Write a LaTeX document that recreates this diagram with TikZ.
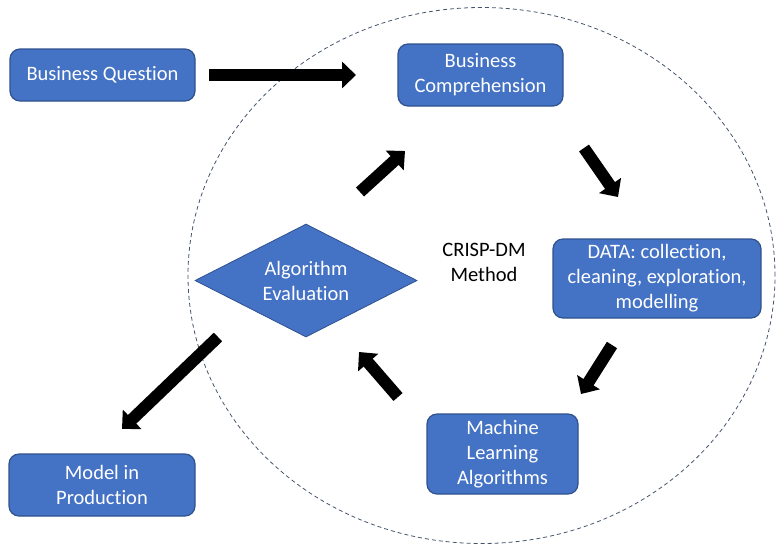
\documentclass[tikz,border=0pt]{standalone}
\usepackage{fontspec}
\setmainfont[Ligatures=NoCommon]{Carlito}
\usetikzlibrary{arrows.meta,shapes.geometric}
\definecolor{BoxBlue}{RGB}{68,114,196}
\definecolor{BoxEdge}{RGB}{47,82,143}
\definecolor{RingGray}{RGB}{68,84,106}
\tikzset{
  stage/.style={draw=BoxEdge,fill=BoxBlue,line width=1.2pt,rounded corners=10pt,text=white,align=center,inner sep=0pt,font=\fontsize{20.5}{25}\selectfont},
  decision/.style={diamond,aspect=2,draw=BoxEdge,fill=BoxBlue,line width=0.8pt,text=white,align=center,inner sep=0pt,minimum width=222pt,minimum height=113pt,font=\fontsize{20.5}{25}\selectfont},
  note/.style={align=center,font=\fontsize{20.5}{25}\selectfont},
  flow/.style={-{Triangle[length=14pt,width=26pt]},line width=12pt,draw=black},
  loopring/.style={draw=RingGray,line width=0.8pt,dash pattern=on 4pt off 3pt}
}
\begin{document}
\begin{tikzpicture}[x=1pt,y=-1pt]
\useasboundingbox (0,0) rectangle (781,550);
\draw[loopring] (481.5,275.5) ellipse [x radius=293.5pt,y radius=268pt];

\node[stage,minimum width=185pt,minimum height=52pt] (bq) at (102.5,75) {Business Question};
\node[stage,minimum width=165pt,minimum height=62pt] (bc) at (480.5,75) {Business\\Comprehension};
\node[stage,minimum width=208pt,minimum height=79pt] (data) at (657,278.5) {DATA: collection,\\cleaning, exploration,\\modelling};
\node[stage,minimum width=151pt,minimum height=80pt] (ml) at (502.5,454) {Machine\\Learning\\Algorithms};
\node[decision] (eval) at (306,280.5) {Algorithm\\Evaluation};
\node[stage,minimum width=186pt,minimum height=62pt] (model) at (102,485) {Model in\\Production};
\node[note] (crisp) at (484,262) {CRISP-DM\\Method};

\coordinate (a1) at (209,75);\coordinate (b1) at (356,75);
\coordinate (a2) at (584,148);\coordinate (b2) at (618,197);
\coordinate (a3) at (612,345);\coordinate (b3) at (581,394);
\coordinate (a4) at (398,397);\coordinate (b4) at (359,352);
\coordinate (a5) at (360,192);\coordinate (b5) at (405,151);
\coordinate (a6) at (218,337);\coordinate (b6) at (122,429);

\draw[flow](a1)--(b1);\draw[flow](a2)--(b2);\draw[flow](a3)--(b3);\draw[flow](a4)--(b4);\draw[flow](a5)--(b5);\draw[flow](a6)--(b6);
\end{tikzpicture}
\end{document}
